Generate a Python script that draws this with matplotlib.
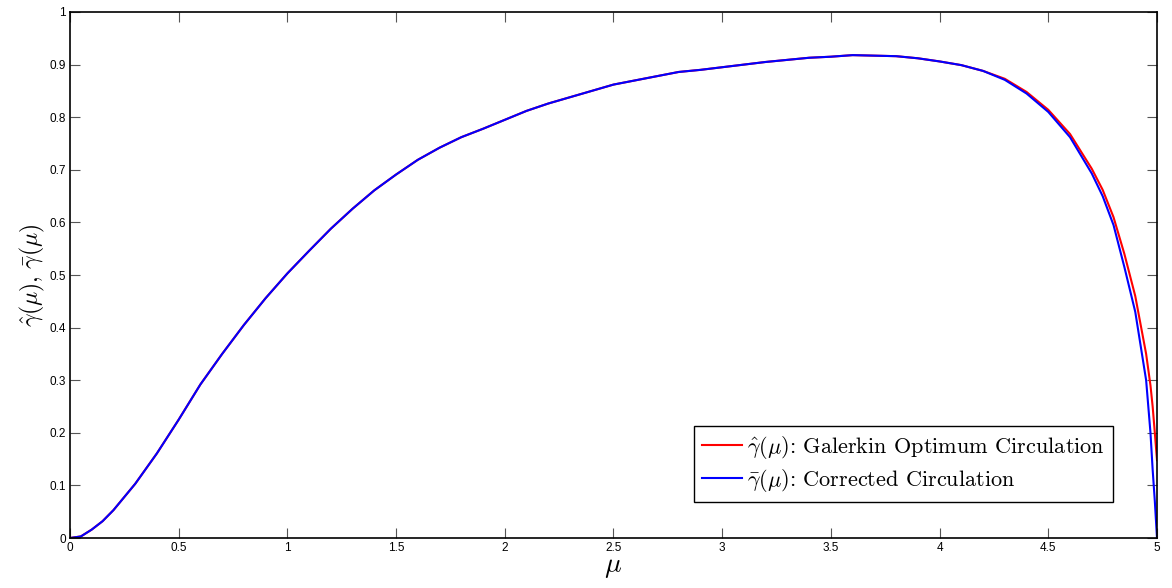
import matplotlib.pyplot as plt
import numpy as np

plt.rcParams['mathtext.fontset'] = 'cm'
plt.rcParams['font.family'] = ['Liberation Sans', 'DejaVu Sans']

# mu values and the two circulation curves
mu = [0.0, 0.05, 0.1, 0.15, 0.2, 0.3, 0.4, 0.5, 0.6, 0.7, 0.8, 0.9, 1.0,
      1.1, 1.2, 1.3, 1.4, 1.5, 1.6, 1.7, 1.8, 1.9, 2.0, 2.1, 2.2,
      2.3, 2.4, 2.5, 2.6, 2.7, 2.8, 2.9, 3.0, 3.1, 3.2, 3.3, 3.4,
      3.5, 3.6, 3.7, 3.8, 3.9, 4.0, 4.1, 4.2, 4.3, 4.4, 4.5, 4.6,
      4.7, 4.75, 4.8, 4.85, 4.9, 4.95, 4.97, 4.98, 4.99, 5.0]
gamma_corr = [0.0, 0.003, 0.016, 0.032, 0.053, 0.103, 0.161, 0.225, 0.292, 0.35, 0.405, 0.456, 0.503,
              0.546, 0.588, 0.626, 0.661, 0.691, 0.719, 0.742, 0.762, 0.778, 0.795, 0.812, 0.826,
              0.838, 0.85, 0.862, 0.87, 0.878, 0.886, 0.89, 0.895, 0.9, 0.905, 0.909, 0.913,
              0.915, 0.918, 0.917, 0.916, 0.912, 0.906, 0.899, 0.888, 0.871, 0.845, 0.81, 0.762,
              0.693, 0.65, 0.595, 0.515, 0.43, 0.30, 0.20, 0.13, 0.07, 0.0]
gamma_gal = [0.0, 0.003, 0.016, 0.032, 0.053, 0.103, 0.161, 0.225, 0.292, 0.35, 0.405, 0.456, 0.503,
             0.546, 0.588, 0.626, 0.661, 0.691, 0.719, 0.742, 0.762, 0.778, 0.795, 0.812, 0.826,
             0.838, 0.85, 0.862, 0.87, 0.878, 0.886, 0.89, 0.895, 0.9, 0.905, 0.909, 0.913,
             0.915, 0.918, 0.917, 0.916, 0.912, 0.906, 0.899, 0.888, 0.873, 0.848, 0.814, 0.768,
             0.702, 0.662, 0.61, 0.54, 0.46, 0.35, 0.29, 0.25, 0.20, 0.148]

fig = plt.figure(figsize=(11.72, 5.88), dpi=100)
ax = fig.add_axes([0.0597, 0.085, 0.9275, 0.8946])

ax.plot(mu, gamma_gal, color='red', linewidth=1.5,
        label=r'$\hat{\gamma}(\mu)$: Galerkin Optimum Circulation')
ax.plot(mu, gamma_corr, color='blue', linewidth=1.5,
        label=r'$\bar{\gamma}(\mu)$: Corrected Circulation')

ax.set_xlim(0, 5)
ax.set_ylim(0, 1)
ax.set_xticks(np.arange(0, 5.01, 0.5))
ax.set_xticklabels(['0', '0.5', '1', '1.5', '2', '2.5', '3', '3.5', '4', '4.5', '5'])
ax.set_yticks(np.arange(0, 1.01, 0.1))
ax.set_yticklabels(['0', '0.1', '0.2', '0.3', '0.4', '0.5', '0.6', '0.7', '0.8', '0.9', '1'])
ax.tick_params(direction='in', top=True, right=True, length=7.5, width=0.8,
               color='#555555', labelsize=8.5, pad=3)
for s in ax.spines.values():
    s.set_linewidth(1.2)

ax.set_xlabel(r'$\mu$', fontsize=20, labelpad=0)
ax.set_ylabel(r'$\hat{\gamma}(\mu),\,\bar{\gamma}(\mu)$', fontsize=17, labelpad=2)

leg = ax.legend(loc='lower right', bbox_to_anchor=(0.9595, 0.0684), borderaxespad=0,
                fancybox=False, framealpha=1, edgecolor='black', handlelength=1.8,
                handletextpad=0.25, borderpad=0.35, labelspacing=0.3,
                prop={'family': 'cmr10', 'size': 16})
leg.get_frame().set_linewidth(1.0)

fig.savefig('out.png', dpi=100)
